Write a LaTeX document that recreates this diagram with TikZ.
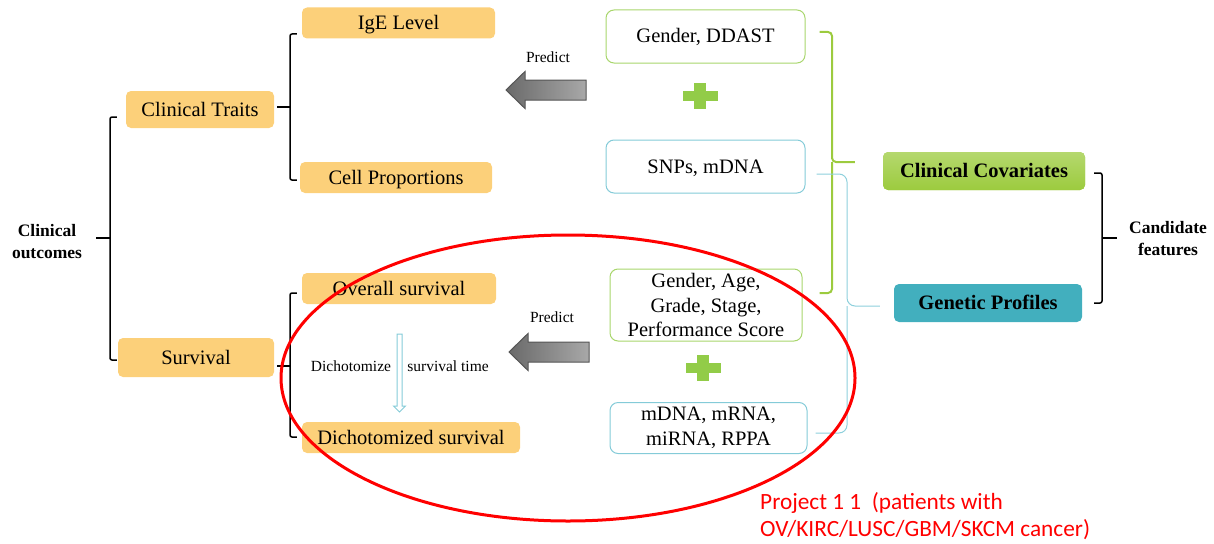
\documentclass[tikz,border=0pt]{standalone}
\usepackage{fontspec}
\setmainfont{Liberation Serif}
\newfontfamily\calibri{Carlito}
\usepackage{tikz}
\usetikzlibrary{positioning,calc,shadings}

\definecolor{traitorange}{HTML}{FCD07A}
\definecolor{featgreen}{HTML}{A8D66C}
\definecolor{featblue}{HTML}{84CBD8}
\definecolor{plusgreen}{HTML}{92CC48}
\definecolor{bracegreen}{HTML}{9CCB3E}
\definecolor{braceblue}{HTML}{8DD0DC}
\definecolor{genteal}{HTML}{42AFBE}
\definecolor{arrowdark}{HTML}{6A6A6A}
\definecolor{arrowlight}{HTML}{A8A8A8}

\tikzset{
  trait/.style={fill=traitorange, rounded corners=5, inner sep=0pt, text height=15pt, text depth=2pt,
    font=\fontsize{20.5}{24.6}\selectfont},
  featbox/.style={draw, fill=white, rounded corners=8, line width=1, inner sep=0pt,
    align=center, font=\fontsize{20.5}{24.6}\selectfont},
  oneline/.style={text height=15pt, text depth=2pt},
  brk/.style={line width=1.5, rounded corners=2},
  small/.style={font=\fontsize{15.5}{18}\selectfont},
  boldlabel/.style={align=center, font=\bfseries\fontsize{17.5}{22}\selectfont},
  predarrow/.style={draw=arrowdark!80!black, line width=1, left color=arrowdark, right color=arrowlight},
}

\begin{document}
\begin{tikzpicture}[x=1pt, y=-1pt]
    \useasboundingbox (0,0) rectangle (1214,543);

    % Outcomes
    \node[trait, minimum width=193pt, minimum height=31pt] (ige) at (398.5,23) {IgE Level};
    \node[trait, minimum width=148pt, minimum height=37pt] (ct) at (200,109.5) {Clinical Traits};
    \node[trait, minimum width=192pt, minimum height=31pt] (cell) at (396,177.5) {Cell Proportions};
    \node[trait, minimum width=194pt, minimum height=31pt] (os) at (399,288.5) {Overall survival};
    \node[trait, minimum width=156pt, minimum height=39pt] (surv) at (196,357.5) {Survival};
    \node[trait, minimum width=218pt, minimum height=31pt] (dich) at (411,437.5) {Dichotomized survival};
    \node[boldlabel] (outc) at (47,242) {Clinical\\outcomes};

    % Brackets on the left
    \draw[brk] ($(ct.west)+(-9,7.5)$) -- (110,117) -- (110,360) -- ($(surv.west)+(-1,2.5)$);
    \draw[brk] (96,238) -- (110,238);
    \draw[brk] ($(ct.east)+(3,-2.5)$) -- (290,107);
    \draw[brk] ($(ige.west)+(-5,11)$) -- (290,34) -- (290,180) -- ($(cell.west)+(-3,2.5)$);
    \draw[brk] ($(surv.east)+(3,8.5)$) -- (290,366);
    \draw[brk] ($(os.west)+(-5,4.5)$) -- (290,293) -- (290,437) -- ($(dich.west)+(-5,-0.5)$);

    % Features
    \node[featbox, oneline, draw=featgreen, minimum width=199pt, minimum height=53pt] (gd) at (705.5,36.5) {Gender, DDAST};
    \node[featbox, oneline, draw=featblue, minimum width=199pt, minimum height=53pt] (snp) at (705.5,166.5) {SNPs, mDNA};
    \node[featbox, draw=featgreen, minimum width=192pt, minimum height=72pt] (gags) at (706,305) {Gender, Age,\\Grade, Stage,\\Performance Score};
    \node[featbox, draw=featblue, minimum width=197pt, minimum height=51pt] (mrna) at (708.5,428) {mDNA, mRNA,\\miRNA, RPPA};
    \foreach \p in {(700,96),(703,368)} {
        \fill[plusgreen, shift={\p}] (-17.5,-5) rectangle (17.5,5);
        \fill[plusgreen, shift={\p}] (-6,-13) rectangle (6,13);
    }

    % Predict arrows
    \node[small] (predA) at (548,57) {Predict};
    \node[small] (predB) at (552,317) {Predict};
    \foreach \t in {(506,90),(509,352)}
        \draw[predarrow, shift={\t}] (0,0) -- (19,-18.5) -- (19,-10) -- (80,-10) -- (80,10) -- (19,10) -- (19,18.5) -- cycle;

    % Dichotomize
    \draw[featblue, line width=1] (397,334) -- (402,334) -- (402,406) -- (405.5,406) -- (399.5,412) -- (393.5,406) -- (397,406) -- cycle;
    \node[small] (dtxt) at (351,366) {Dichotomize};
    \node[small] (stxt) at (448,366) {survival time};

    % Candidate features
    \node[fill=bracegreen!90!white, top color=bracegreen!75!white, bottom color=bracegreen,
        rounded corners=5, minimum width=202pt, minimum height=38pt, inner sep=0pt, oneline,
        font=\bfseries\fontsize{20.5}{24.6}\selectfont] (cc) at (984,171) {Clinical Covariates};
    \node[fill=genteal, rounded corners=5, minimum width=188pt, minimum height=38pt, inner sep=0pt, oneline,
        font=\bfseries\fontsize{20.5}{24.6}\selectfont] (gp) at (988,303) {Genetic Profiles};
    \node[boldlabel] (cand) at (1168,239) {Candidate\\features};

    \draw[bracegreen, line width=2, rounded corners=4] ($(gd.east)+(14,-4.5)$) -| (832,162) -- ($(cc.west)+(-28,-9)$);
    \draw[bracegreen, line width=2, rounded corners=4] ($(gags.east)+(17,-12)$) -| (832,162);
    \draw[braceblue, line width=1, rounded corners=8] ($(snp.east)+(11,7.5)$) -| (847,306) -- ($(gp.west)+(-14,3)$);
    \draw[braceblue, line width=1, rounded corners=8] ($(mrna.east)+(8,5)$) -| (847,306);
    \draw[brk] ($(cc.east)+(9,2)$) -- (1102,173) -- (1102,303) -- ($(gp.east)+(12,0)$);
    \draw[brk] (1102,238) -- (1117,238);

    % Project
    \draw[red, line width=3] (568,378) ellipse [x radius=287, y radius=143];
    \node[anchor=base west, align=left, text=red, inner sep=0pt,
        font=\calibri\fontsize{23.3}{27}\selectfont] (proj) at (760,536) {Project 1 1\ \ (patients with\\OV/KIRC/LUSC/GBM/SKCM cancer)};
\end{tikzpicture}
\end{document}
